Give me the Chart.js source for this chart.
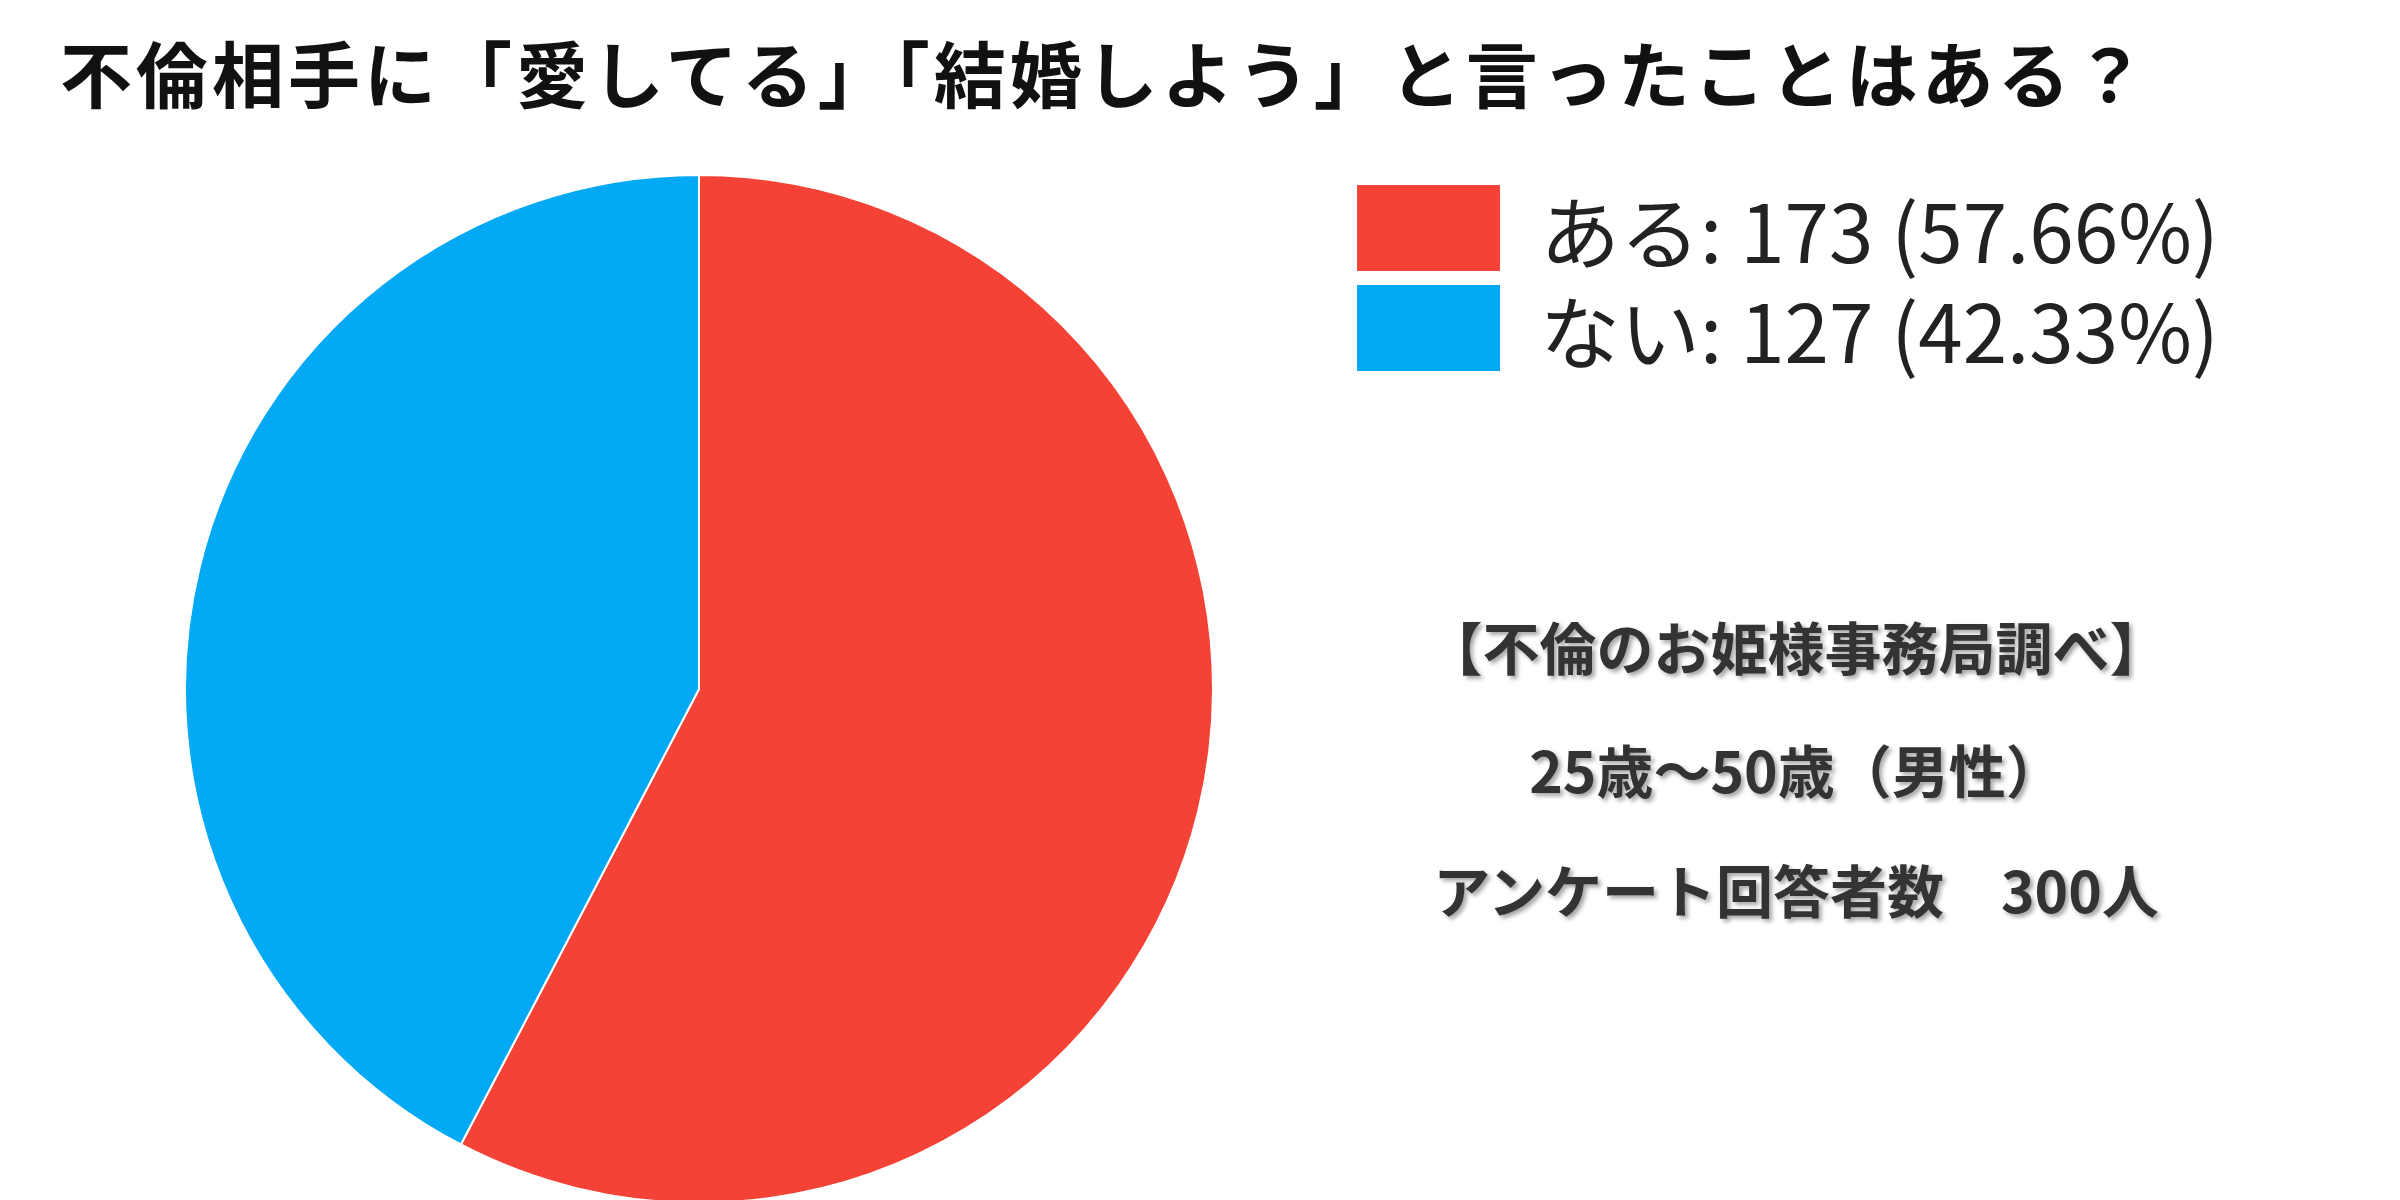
<!DOCTYPE html>
<html>
<head>
<meta charset="utf-8">
<script src="https://cdn.jsdelivr.net/npm/chart.js@4.4.0/dist/chart.umd.min.js"></script>
<style>
  body { margin: 0; width: 2400px; height: 1200px; overflow: hidden; background: #fff;
         font-family: "Noto Sans CJK JP", "Noto Sans", sans-serif; position: relative; }
  #title { position: absolute; left: 60px; top: 28px; font-size: 72px; line-height: 1.2; font-weight: bold; color: #111; white-space: nowrap; letter-spacing: 4px; }
  #pieBox { position: absolute; left: 184px; top: 174px; width: 1030px; height: 1030px; }
  #legend { position: absolute; left: 1357px; top: 185px; }
  .item { display: flex; align-items: center; height: 86px; margin-bottom: 14px; }
  .sw { width: 143px; height: 86px; margin-right: 40px; }
  .lab { font-size: 80px; color: #222; white-space: nowrap; }
  .note { position: absolute; left: 1396px; width: 800px; text-align: center; font-size: 57px; font-weight: bold;
          color: #333; text-shadow: 3px 3px 4px rgba(0,0,0,0.35); white-space: nowrap; }
</style>
</head>
<body>
<div id="title">不倫相手に「愛してる」「結婚しよう」と言ったことはある？</div>
<div id="pieBox"><canvas id="chartCanvas"></canvas></div>
<div id="legend"></div>
<div class="note" style="top:604px">【不倫のお姫様事務局調べ】</div>
<div class="note" style="top:727px">25歳～50歳（男性）</div>
<div class="note" style="top:847px">アンケート回答者数　300人</div>
<script>
const labels = ['ある', 'ない'];
const counts = [173, 127];
const colors = ['#F44336', '#03A9F4'];

const total = counts.reduce((a, b) => a + b, 0);
const legend = document.getElementById('legend');
labels.forEach((l, i) => {
  const pct = (Math.floor(counts[i] / total * 10000) / 100).toFixed(2);
  const row = document.createElement('div');
  row.className = 'item';
  row.innerHTML = `<div class="sw" style="background:${colors[i]}"></div><div class="lab">${l}: ${counts[i]} (${pct}%)</div>`;
  legend.appendChild(row);
});

new Chart(document.getElementById('chartCanvas'), {
  type: 'pie',
  data: {
    labels: labels,
    datasets: [{ data: counts, backgroundColor: colors, borderColor: '#ffffff', borderWidth: 2 }]
  },
  options: {
    responsive: true,
    maintainAspectRatio: false,
    animation: false,
    layout: { padding: 0 },
    plugins: { legend: { display: false }, title: { display: false }, tooltip: { enabled: false } }
  }
});
</script>
</body>
</html>
